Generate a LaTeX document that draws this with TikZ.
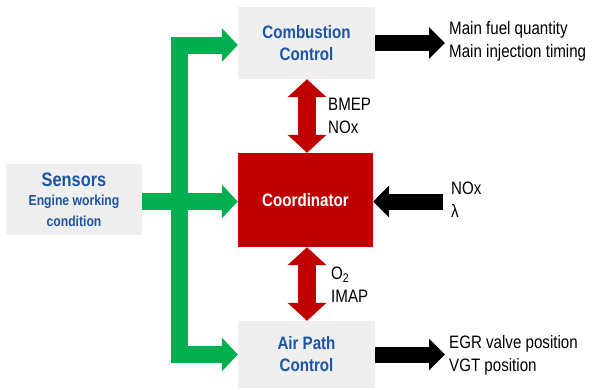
\documentclass[tikz,border=0pt]{standalone}
\usepackage{fontspec}
\setmainfont{Liberation Sans}[FakeStretch=0.84]
\usetikzlibrary{arrows.meta}
\definecolor{boxgray}{HTML}{EFEFEF}
\definecolor{tblue}{HTML}{1B55A3}
\definecolor{grn}{HTML}{00B050}
\definecolor{rd}{HTML}{C00000}
\begin{document}
\begin{tikzpicture}[x=1pt,y=-1pt,
  gbox/.style={fill=boxgray, draw=none, inner sep=0pt, align=center, text=tblue,
    font=\fontsize{18}{22}\selectfont\bfseries},
  grarrow/.style={draw=grn, line width=17pt, line join=miter,
    -{Triangle[width=33pt,length=16pt]}},
  grarrowtwo/.style={draw=grn, line width=17pt, line join=miter,
    {Triangle[width=33pt,length=16pt]}-{Triangle[width=33pt,length=16pt]}},
  bkarrow/.style={draw=black, line width=16pt,
    -{Triangle[width=31pt,length=16pt]}},
  rdarrow/.style={draw=rd, line width=18pt,
    {Triangle[width=38pt,length=18pt]}-{Triangle[width=38pt,length=18pt]}},
  lbl/.style={anchor=west, inner sep=0pt, align=left,
    font=\fontsize{18}{23}\selectfont}]
\useasboundingbox (0,0) rectangle (592,389);

\node[gbox, minimum width=136pt, minimum height=71pt] (sn) at (74,199.5)
  {{\fontsize{19.5}{21}\selectfont Sensors}\\[-3pt]
   {\fontsize{14.5}{19}\selectfont Engine working}\\[-1pt]
   {\fontsize{14.5}{19}\selectfont condition}};
\node[gbox, minimum width=137pt, minimum height=72pt] (cc) at (306.5,43)
  {Combustion\\Control};
\node[fill=rd, inner sep=0pt, minimum width=135pt, minimum height=94pt,
  text=white, font=\fontsize{18}{22}\selectfont\bfseries] (co) at (305.5,200)
  {Coordinator};
\node[gbox, minimum width=137pt, minimum height=67pt] (ap) at (306.5,354.5)
  {Air Path\\Control};

% green arrows
\coordinate (gt) at (179.5,45);
\coordinate (gb) at (179.5,354.5);
\draw[grarrowtwo] (cc.west |- gt) -- (gt) -- (gb) -- (ap.west);
\draw[grarrow] (sn.east |- 0,201.5) -- (co.west |- 0,201.5);

% black arrows
\coordinate (o1) at (445,43);
\coordinate (o2) at (445,354.5);
\coordinate (i1) at (443,201.5);
\draw[bkarrow] (cc.east) -- (o1);
\draw[bkarrow] (ap.east) -- (o2);
\draw[bkarrow] (i1) -- (co.east |- i1);

\node[lbl] (t1) at (449,41) {Main fuel quantity\\Main injection timing};
\node[lbl] (t2) at (449,355) {EGR valve position\\VGT position};
\node[lbl] (t3) at (451,200) {NOx\\λ};

% red arrows
\coordinate (ra) at (307,0);
\draw[rdarrow] (ra |- cc.south) -- (ra |- co.north);
\draw[rdarrow] (ra |- co.south) -- (ra |- ap.north);
\node[lbl] (t4) at (328,116) {BMEP\\NOx};
\node[lbl] (t5) at (331,285) {O\textsubscript{2}\\IMAP};
\end{tikzpicture}
\end{document}
